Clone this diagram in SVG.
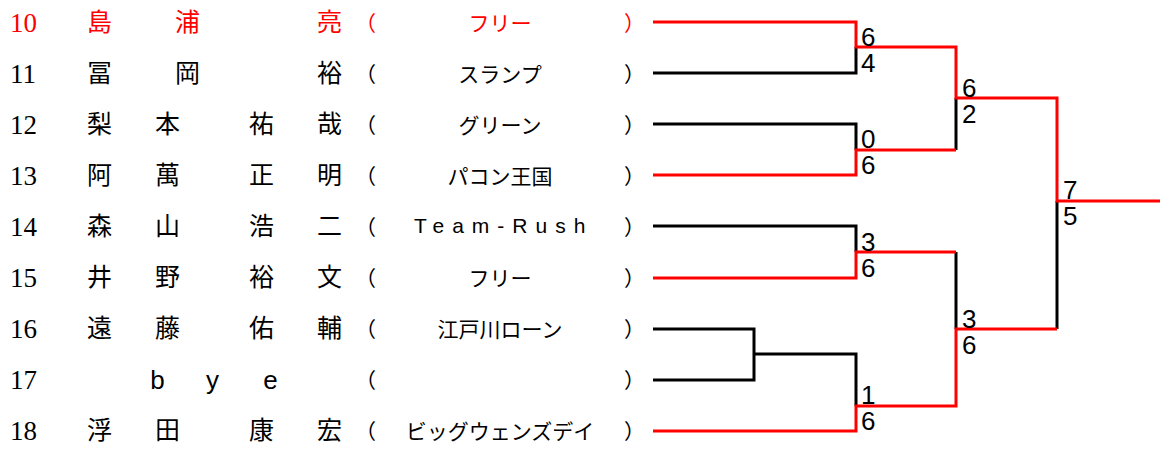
<svg xmlns="http://www.w3.org/2000/svg" width="1160" height="449" viewBox="0 0 1160 449">
<style>
.num{font-family:"Liberation Serif",serif;font-size:27px;fill:#000}
.nm{font-family:"Noto Sans CJK JP",sans-serif;font-size:25px;fill:#000;text-anchor:middle}
.lat{font-family:"Liberation Sans",sans-serif;font-size:26px;fill:#000;text-anchor:middle}
.pr{font-family:"Noto Sans CJK JP",sans-serif;font-size:21px;fill:#000}
.tm{font-family:"Noto Sans CJK JP",sans-serif;font-size:21px;fill:#000;text-anchor:middle}
.red{fill:#ff0000}
.sc{font-family:"Liberation Sans",sans-serif;font-size:26px;fill:#000}
.bk{fill:none;stroke:#000;stroke-width:3}
.rd{fill:none;stroke:#ff0000;stroke-width:3}
</style>
<rect width="1160" height="449" fill="#fff"/>
<g id="connectors">
<path class="bk" d="M653 73H856V47"/>
<path class="bk" d="M653 124H856V150"/>
<path class="bk" d="M653 226H856V252"/>
<path class="bk" d="M653 329H754V380H653"/>
<path class="bk" d="M754 354H856V406"/>
<path class="bk" d="M956 98V150"/>
<path class="bk" d="M956 252V329"/>
<path class="bk" d="M1057 201V329"/>
<path class="rd" d="M653 22H856V47H956V98H1057V201H1160"/>
<path class="rd" d="M653 175H856V150H956"/>
<path class="rd" d="M653 278H856V252H956"/>
<path class="rd" d="M653 431H856V406H956V329H1057"/>
</g>
<g id="scores">
<text class="sc" x="861" y="46">6</text><text class="sc" x="861" y="72">4</text>
<text class="sc" x="861" y="148">0</text><text class="sc" x="861" y="174">6</text>
<text class="sc" x="861" y="251">3</text><text class="sc" x="861" y="277">6</text>
<text class="sc" x="861" y="404">1</text><text class="sc" x="861" y="430">6</text>
<text class="sc" x="962" y="97">6</text><text class="sc" x="962" y="123">2</text>
<text class="sc" x="962" y="328">3</text><text class="sc" x="962" y="354">6</text>
<text class="sc" x="1063" y="199">7</text><text class="sc" x="1063" y="225">5</text>
</g>
<g id="p10">
<text class="num red" x="10" y="32">10</text>
<text class="nm red" x="99.5" y="31">島</text><text class="nm red" x="187.5" y="31">浦</text><text class="nm red" x="329.5" y="31">亮</text>
<text class="pr red" x="355" y="31">（</text><text class="tm red" x="500" y="31">フリー</text><text class="pr red" x="624" y="31">）</text>
</g>
<g id="p11">
<text class="num" x="10" y="83">11</text>
<text class="nm" x="99.5" y="82">冨</text><text class="nm" x="187.5" y="82">岡</text><text class="nm" x="329.5" y="82">裕</text>
<text class="pr" x="355" y="82">（</text><text class="tm" x="500" y="82">スランプ</text><text class="pr" x="624" y="82">）</text>
</g>
<g id="p12">
<text class="num" x="10" y="134">12</text>
<text class="nm" x="99.5" y="133">梨</text><text class="nm" x="167.5" y="133">本</text><text class="nm" x="261.5" y="133">祐</text><text class="nm" x="329.5" y="133">哉</text>
<text class="pr" x="355" y="133">（</text><text class="tm" x="500" y="133">グリーン</text><text class="pr" x="624" y="133">）</text>
</g>
<g id="p13">
<text class="num" x="10" y="185">13</text>
<text class="nm" x="99.5" y="184">阿</text><text class="nm" x="167.5" y="184">萬</text><text class="nm" x="261.5" y="184">正</text><text class="nm" x="329.5" y="184">明</text>
<text class="pr" x="355" y="184">（</text><text class="tm" x="500" y="184">パコン王国</text><text class="pr" x="624" y="184">）</text>
</g>
<g id="p14">
<text class="num" x="10" y="236">14</text>
<text class="nm" x="99.5" y="235">森</text><text class="nm" x="167.5" y="235">山</text><text class="nm" x="261.5" y="235">浩</text><text class="nm" x="329.5" y="235">二</text>
<text class="pr" x="355" y="235">（</text><text x="414" y="233" style="font-family:'Liberation Sans',sans-serif;font-size:21px;letter-spacing:8px" fill="#000">Team-Rush</text><text class="pr" x="624" y="235">）</text>
</g>
<g id="p15">
<text class="num" x="10" y="287">15</text>
<text class="nm" x="99.5" y="286">井</text><text class="nm" x="167.5" y="286">野</text><text class="nm" x="261.5" y="286">裕</text><text class="nm" x="329.5" y="286">文</text>
<text class="pr" x="355" y="286">（</text><text class="tm" x="500" y="286">フリー</text><text class="pr" x="624" y="286">）</text>
</g>
<g id="p16">
<text class="num" x="10" y="338">16</text>
<text class="nm" x="99.5" y="337">遠</text><text class="nm" x="167.5" y="337">藤</text><text class="nm" x="261.5" y="337">佑</text><text class="nm" x="329.5" y="337">輔</text>
<text class="pr" x="355" y="337">（</text><text class="tm" x="500" y="337">江戸川ローン</text><text class="pr" x="624" y="337">）</text>
</g>
<g id="p17">
<text class="num" x="10" y="389">17</text>
<text class="lat" x="157.5" y="389">b</text><text class="lat" x="212.5" y="389">y</text><text class="lat" x="270.5" y="389">e</text>
<text class="pr" x="355" y="388">（</text><text class="pr" x="624" y="388">）</text>
</g>
<g id="p18">
<text class="num" x="10" y="440">18</text>
<text class="nm" x="99.5" y="439">浮</text><text class="nm" x="167.5" y="439">田</text><text class="nm" x="261.5" y="439">康</text><text class="nm" x="329.5" y="439">宏</text>
<text class="pr" x="355" y="439">（</text><text class="tm" x="500" y="439">ビッグウェンズデイ</text><text class="pr" x="624" y="439">）</text>
</g>
</svg>
